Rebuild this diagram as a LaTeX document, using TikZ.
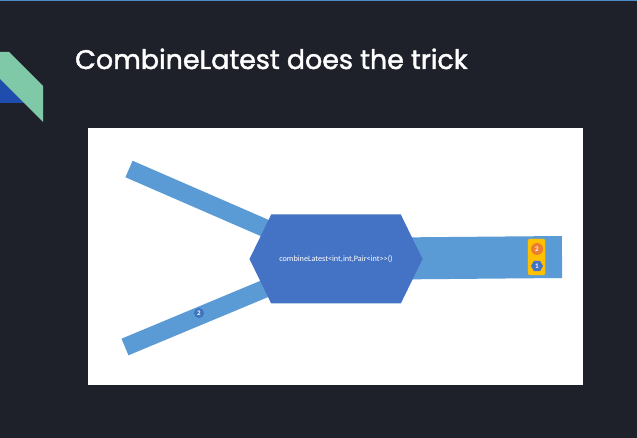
\documentclass[tikz,border=0pt]{standalone}
\usepackage{fontspec}
\setmainfont{Carlito}
\newfontfamily\titlefont[FakeBold=1.6]{Poppins}
\usetikzlibrary{shapes.geometric,shapes.symbols}
\definecolor{slidebg}{HTML}{1E212A}
\definecolor{topline}{HTML}{4A8BC8}
\definecolor{leafgreen}{HTML}{80C9A8}
\definecolor{leafblue}{HTML}{1E4DAE}
\definecolor{streamblue}{HTML}{5B9BD5}
\definecolor{opblue}{HTML}{4472C4}
\definecolor{marbleblue}{HTML}{3E73BE}
\definecolor{boxyellow}{HTML}{FFC000}
\definecolor{marbleorange}{HTML}{ED7D31}
\tikzset{
  stream/.style={draw=streamblue, line width=18pt, line cap=butt},
  marble/.style={circle, inner sep=0pt, minimum size=#1, text=white, font=\fontsize{7}{7}\selectfont\bfseries},
}
\begin{document}
\begin{tikzpicture}[x=1pt,y=-1pt]
\useasboundingbox (0,0) rectangle (637,438);
\fill[slidebg] (0,0) rectangle (637,438);
\fill[topline] (0,0) rectangle (637,1.5);
\fill[leafblue] (0,79) -- (24,103) -- (0,103) -- cycle;
\fill[leafgreen] (0,52) -- (9,52) -- (43,86) -- (43,122) -- (0,79) -- cycle;
\node[anchor=base west, text=white, inner sep=0pt, font=\titlefont\fontsize{26.9}{27}\selectfont] (title) at (75,69) {CombineLatest does the trick};
\fill[white] (88,128) rectangle (583,385);

\coordinate (top in) at (129,169);
\coordinate (bottom in) at (125,347);
\coordinate (out) at (562,257);
\coordinate (op c) at (336,259);
\draw[stream] (top in) -- (op c);
\draw[stream] (bottom in) -- (op c);
\draw[stream, line width=42pt] (op c) -- (out);
\node[signal, signal to=west and east, signal pointer angle=128, fill=opblue, inner sep=0pt,
      minimum width=173pt, minimum height=89pt, text=white, font=\fontsize{8.2}{8.2}\selectfont] (op) at (op c)
      {combineLatest<int,int,Pair<int>{}>()};

\node[marble=10pt, fill=marbleblue] (m2) at (199,313) {2};
\node[draw=boxyellow, fill=boxyellow, rounded corners=2pt, minimum width=17pt, minimum height=36pt, inner sep=0pt] (batch) at (536.5,257) {};
\node[marble=12pt, fill=marbleorange] (o2) at (537,249) {2};
\node[marble=12pt, regular polygon, regular polygon sides=6, fill=opblue] (o1) at (537,266) {1};
\end{tikzpicture}
\end{document}
